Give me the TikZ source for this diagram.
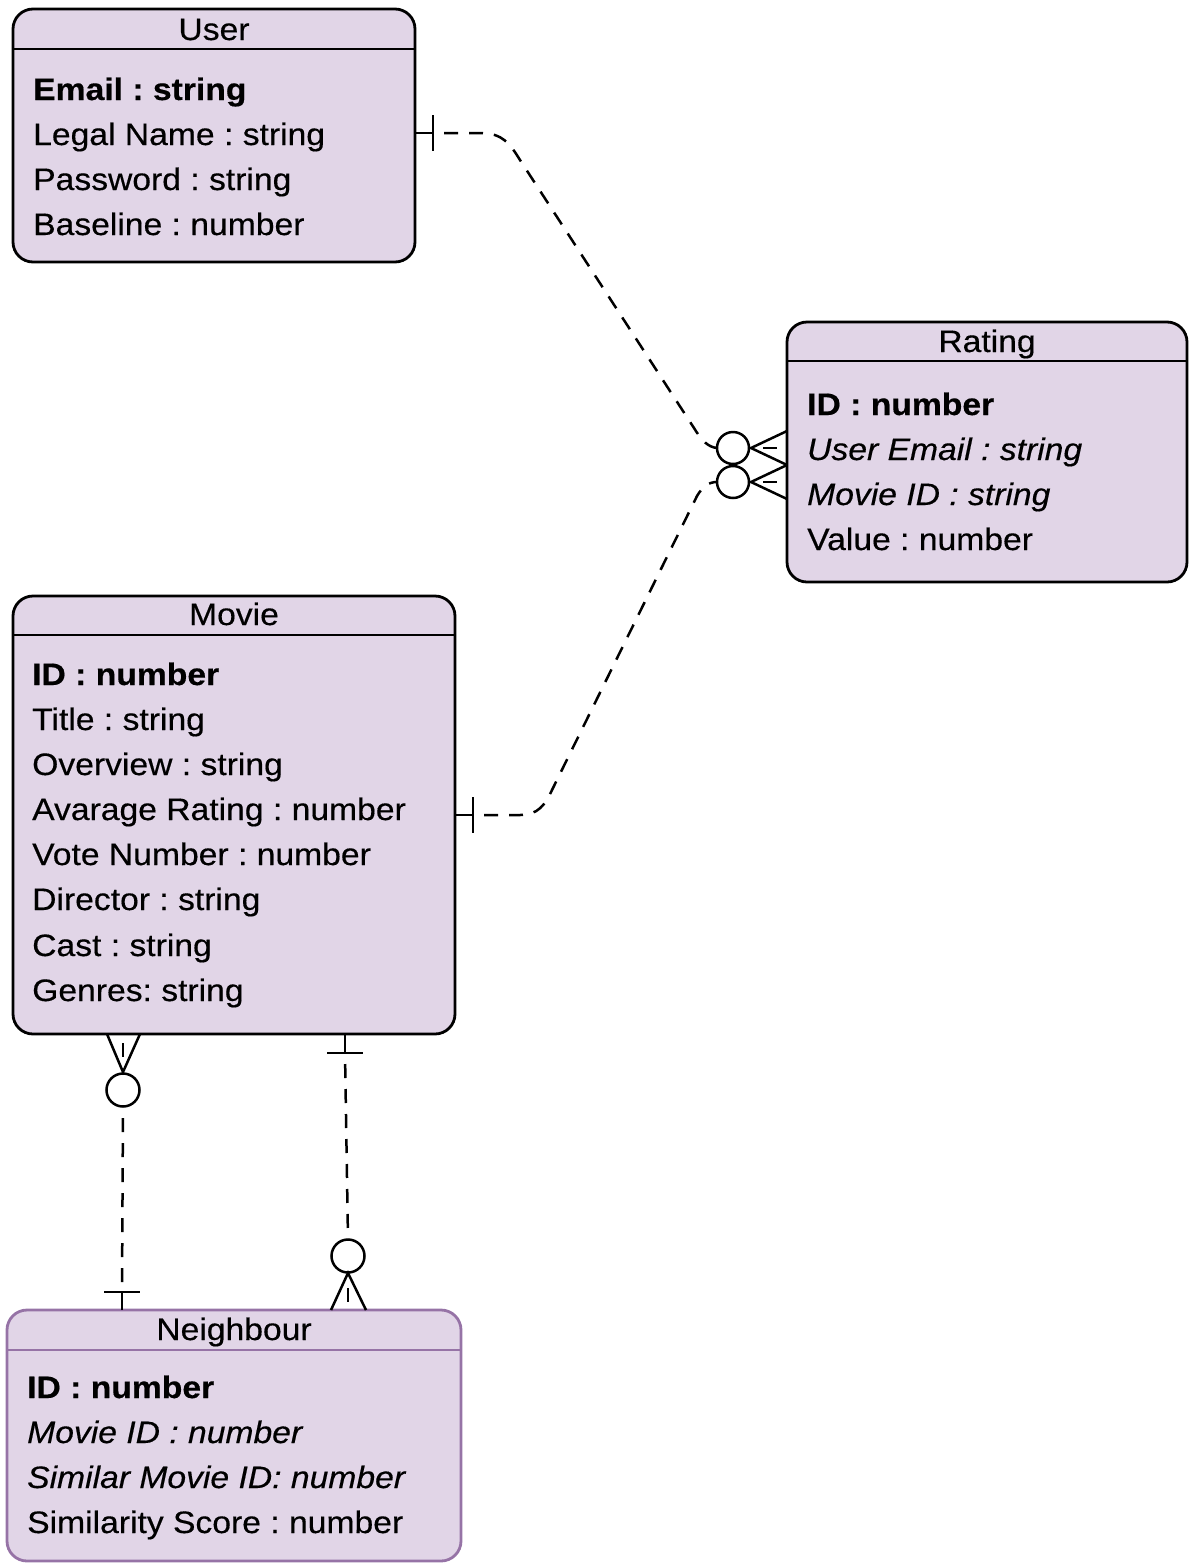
\documentclass[tikz,border=0pt]{standalone}
\usepackage{fontspec}
\setmainfont{Liberation Sans}[FakeStretch=1.086, FakeBold=0.4]
\usetikzlibrary{calc}
\definecolor{entfill}{HTML}{E1D5E7}
\definecolor{entedge}{HTML}{9673A6}
\frenchspacing
\begin{document}
\begin{tikzpicture}[x=1pt,y=-1pt,
  entity/.style={draw=black, line width=2.8pt, fill=entfill, rounded corners=20pt,
                 anchor=north west, inner sep=0pt, outer sep=0pt},
  divider/.style={line width=2.8pt},
  title/.style={anchor=base, inner sep=0pt, font=\fontsize{31}{36}\selectfont},
  field/.style={anchor=base west, inner sep=0pt, font=\fontsize{31}{36}\selectfont},
  pkfield/.style={field, font=\fontsize{31}{36}\selectfont\bfseries},
  fkfield/.style={field, font=\fontsize{31}{36}\selectfont\itshape},
  link/.style={line width=2.5pt, dash pattern=on 14pt off 11pt, dash phase=14pt},
  notation/.style={line width=2.5pt},
]
\useasboundingbox (0,0) rectangle (1189,1564);

% ---------- User ----------
\node[entity, minimum width=402pt, minimum height=253pt] (user) at (13,9) {};
\draw[divider] (user.west |- 0,49) -- (user.east |- 0,49);
\node[title] (user-t) at (214,40) {User};
\node[pkfield] (user-1) at (33,100) {Email : string};
\node[field]   (user-2) at (33,145) {Legal Name : string};
\node[field]   (user-3) at (33,190) {Password : string};
\node[field]   (user-4) at (33,235) {Baseline : number};

% ---------- Rating ----------
\node[entity, minimum width=400pt, minimum height=260pt] (rating) at (787,322) {};
\draw[divider] (rating.west |- 0,361) -- (rating.east |- 0,361);
\node[title] (rating-t) at (987,352) {Rating};
\node[pkfield] (rating-1) at (807,415) {ID : number};
\node[fkfield] (rating-2) at (807,460) {User Email : string};
\node[fkfield] (rating-3) at (807,505) {Movie ID : string};
\node[field]   (rating-4) at (807,550) {Value : number};

% ---------- Movie ----------
\node[entity, minimum width=442pt, minimum height=438pt] (movie) at (13,596) {};
\draw[divider] (movie.west |- 0,635) -- (movie.east |- 0,635);
\node[title] (movie-t) at (234,625) {Movie};
\node[pkfield] (movie-1) at (32,685) {ID : number};
\node[field]   (movie-2) at (32,730) {Title : string};
\node[field]   (movie-3) at (32,775) {Overview : string};
\node[field]   (movie-4) at (32,820) {Avarage Rating : number};
\node[field]   (movie-5) at (32,865) {Vote Number : number};
\node[field]   (movie-6) at (32,910) {Director : string};
\node[field]   (movie-7) at (32,956) {Cast : string};
\node[field]   (movie-8) at (32,1001) {Genres: string};

% ---------- Neighbour ----------
\node[entity, draw=entedge, minimum width=454pt, minimum height=251pt] (neigh) at (7,1310) {};
\draw[divider, entedge] (neigh.west |- 0,1350) -- (neigh.east |- 0,1350);
\node[title] (neigh-t) at (234,1340) {Neighbour};
\node[pkfield] (neigh-1) at (27,1398) {ID : number};
\node[fkfield] (neigh-2) at (27,1443) {Movie ID : number};
\node[fkfield] (neigh-3) at (27,1488) {Similar Movie ID: number};
\node[field]   (neigh-4) at (27,1533) {Similarity Score : number};

% ---------- User (one) to Rating (zero or many) ----------
\coordinate (uR) at (user.east |- 0,133);
\coordinate (rU) at (rating.west |- 0,448);
\draw[notation] (uR) -- ++(18,0);
\draw[notation] ($(uR)+(18,-18)$) -- ++(0,36);
\draw[link] ($(uR)+(18,0)$) -- (480,133) .. controls (503,133) and (510,144) .. (520,160)
  -- (694,428) .. controls (702,441) and (708,447) .. ($(rU)+(-70,0)$);
\draw[notation] ($(rU)+(-54,0)$) circle (16pt);
\draw[notation] ($(rU)+(0,-17)$) -- ($(rU)+(-36,0)$) -- ($(rU)+(0,17)$);
\draw[notation] ($(rU)+(-24,0)$) -- ($(rU)+(-10,0)$);

% ---------- Movie (one) to Rating (zero or many) ----------
\coordinate (mR) at (movie.east |- 0,815);
\coordinate (rM) at (rating.west |- 0,482);
\draw[notation] (mR) -- ++(18,0);
\draw[notation] ($(mR)+(18,-18)$) -- ++(0,36);
\draw[link] ($(mR)+(18,0)$) -- (520,815) .. controls (538,815) and (545,805) .. (552,790)
  -- (697,496) .. controls (703,486) and (709,482) .. ($(rM)+(-70,0)$);
\draw[notation] ($(rM)+(-54,0)$) circle (16pt);
\draw[notation] ($(rM)+(0,-17)$) -- ($(rM)+(-36,0)$) -- ($(rM)+(0,17)$);
\draw[notation] ($(rM)+(-24,0)$) -- ($(rM)+(-10,0)$);

% ---------- Movie (zero or many) to Neighbour (one) ----------
\coordinate (mN) at (123,0 |- movie.south);
\coordinate (nM) at (122,0 |- neigh.north);
\draw[notation] ($(mN)+(-16,0)$) -- ($(mN)+(0,38)$) -- ($(mN)+(17,0)$);
\draw[notation] ($(mN)+(0,9)$) -- ($(mN)+(0,23)$);
\draw[notation] ($(mN)+(0,56)$) circle (16.5pt);
\draw[link] ($(mN)+(0,73)$) -- ($(nM)+(0,-18)$);
\draw[notation] ($(nM)+(-18,-18)$) -- ($(nM)+(18,-18)$);
\draw[notation] ($(nM)+(0,-18)$) -- (nM);

% ---------- Movie (one) to Neighbour (zero or many) ----------
\coordinate (mS) at (345,0 |- movie.south);
\coordinate (nS) at (348,0 |- neigh.north);
\draw[notation] (mS) -- ($(mS)+(0,19)$);
\draw[notation] ($(mS)+(-18,19)$) -- ($(mS)+(18,19)$);
\draw[link] ($(mS)+(0,19)$) -- ($(nS)+(0,-71)$);
\draw[notation] ($(nS)+(0,-54)$) circle (16.5pt);
\draw[notation] ($(nS)+(-17,0)$) -- ($(nS)+(0,-37)$) -- ($(nS)+(18,0)$);
\draw[notation] ($(nS)+(0,-22)$) -- ($(nS)+(0,-8)$);
\end{tikzpicture}
\end{document}
